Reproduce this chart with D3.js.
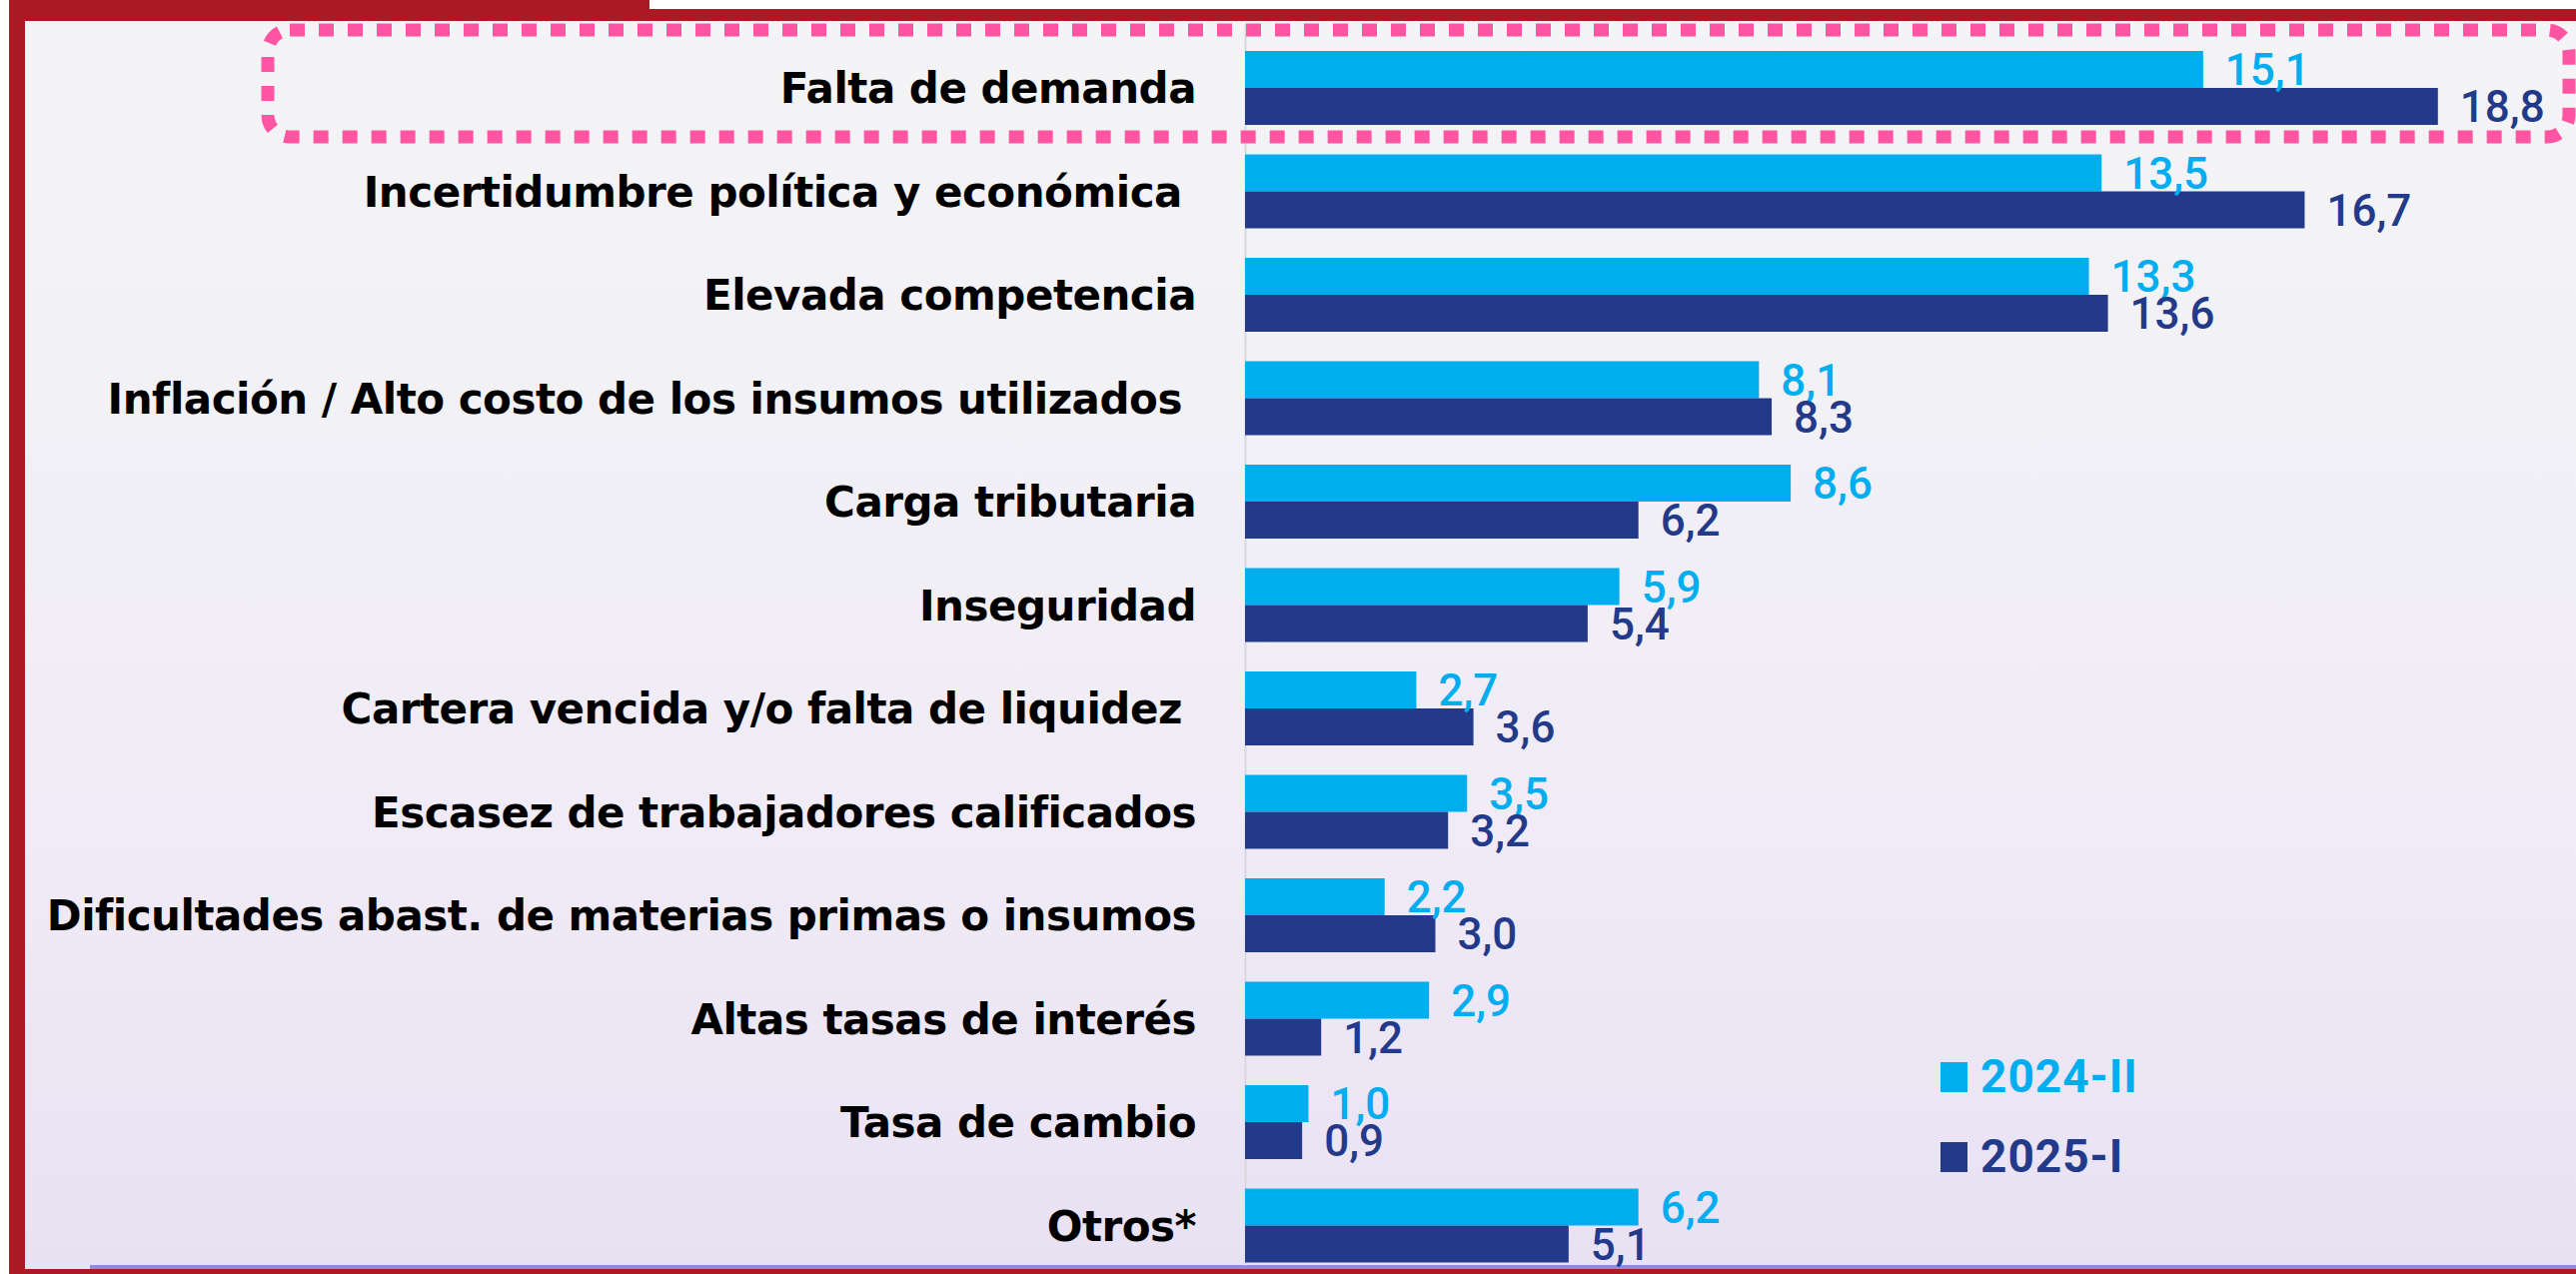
<!DOCTYPE html>
<html>
<head>
<meta charset="utf-8">
<script src="https://cdn.jsdelivr.net/npm/d3@7"></script>
<style>
  html, body { margin: 0; padding: 0; background: #ffffff; }
  svg { display: block; }
  .cat { white-space: pre; }
</style>
</head>
<body>
<div id="chart"></div>
<script>
// categorias (de arriba hacia abajo)
var categorias = [
    "Falta de demanda",
    "Incertidumbre política y económica ",
    "Elevada competencia",
    "Inflación / Alto costo de los insumos utilizados ",
    "Carga tributaria",
    "Inseguridad",
    "Cartera vencida y/o falta de liquidez ",
    "Escasez de trabajadores calificados",
    "Dificultades abast. de materias primas o insumos",
    "Altas tasas de interés",
    "Tasa de cambio",
    "Otros*"
];
var series = ["2024-II", "2025-I"];
var valores2024II = [15.1, 13.5, 13.3, 8.1, 8.6, 5.9, 2.7, 3.5, 2.2, 2.9, 1.0, 6.2];
var valores2025I = [18.8, 16.7, 13.6, 8.3, 6.2, 5.4, 3.6, 3.2, 3.0, 1.2, 0.9, 5.1];
var colores = ["#00aeef", "#233a8b"];

var W = 2578, H = 1275;
var rojo = "#ab1a24";

var svg = d3.select("#chart").append("svg")
    .attr("width", W)
    .attr("height", H);

var defs = svg.append("defs");
var grad = defs.append("linearGradient")
    .attr("id", "fondo")
    .attr("x1", 0).attr("y1", 0).attr("x2", 0).attr("y2", 1);
grad.append("stop").attr("offset", "0").attr("stop-color", "#f4f4f6");
grad.append("stop").attr("offset", "0.3").attr("stop-color", "#f2f1f6");
grad.append("stop").attr("offset", "0.65").attr("stop-color", "#f0ebf6");
grad.append("stop").attr("offset", "1").attr("stop-color", "#e8e1f3");

// fondo del panel
svg.append("rect")
    .attr("x", 25).attr("y", 21)
    .attr("width", W - 25).attr("height", H - 21)
    .attr("fill", "url(#fondo)");

// linea morada abajo
svg.append("rect")
    .attr("x", 90).attr("y", 1266)
    .attr("width", W - 90).attr("height", 4)
    .attr("fill", "#9c86d8");

// marco rojo
svg.append("rect").attr("x", 9).attr("y", 0).attr("width", 16).attr("height", H).attr("fill", rojo);
svg.append("rect").attr("x", 9).attr("y", 0).attr("width", 641).attr("height", 21).attr("fill", rojo);
svg.append("rect").attr("x", 9).attr("y", 9).attr("width", W - 9).attr("height", 12).attr("fill", rojo);
svg.append("rect").attr("x", 9).attr("y", 1270).attr("width", W - 9).attr("height", 5).attr("fill", rojo);

// escalas
var y0 = d3.scaleBand()
    .domain(categorias)
    .range([36.25, 36.25 + categorias.length * 103.5])
    .paddingInner(0.285)
    .paddingOuter(0.1425);

var y1 = d3.scaleBand()
    .domain(series)
    .range([0, y0.bandwidth()]);

var x = d3.scaleLinear()
    .domain([0, 20])
    .range([1246, 1246 + 20 * 63.5]);

var es = d3.formatLocale({ decimal: ",", thousands: ".", grouping: [3], currency: ["", ""] });
var fmt = es.format(".1f");

var datos = categorias.map(function(c, i) {
    return { cat: c, vals: [
        { serie: series[0], v: valores2024II[i], color: colores[0] },
        { serie: series[1], v: valores2025I[i], color: colores[1] }
    ] };
});

// eje vertical (solo la linea)
var eje = svg.append("g")
    .attr("transform", "translate(" + x(0) + ",0)")
    .call(d3.axisLeft(d3.scaleLinear().range([24, 1266])).ticks(0).tickSize(0).tickFormat(""));
eje.select(".domain").attr("stroke", "#d9d7dd").attr("stroke-width", 2);

// recuadro punteado rosa sobre "Falta de demanda"
svg.append("rect")
    .attr("x", 268).attr("y", 30)
    .attr("width", 2571 - 268).attr("height", 137 - 30)
    .attr("rx", 22).attr("ry", 22)
    .attr("fill", "none")
    .attr("stroke", "#ff55a2")
    .attr("stroke-width", 13)
    .attr("stroke-dasharray", "15 14");

var grupos = svg.append("g").selectAll("g")
    .data(datos)
    .enter()
    .append("g")
    .attr("transform", function(d) { return "translate(0," + y0(d.cat) + ")"; });

grupos.selectAll("rect")
    .data(function(d) { return d.vals; })
    .enter()
    .append("rect")
    .attr("x", x(0))
    .attr("y", function(d) { return y1(d.serie); })
    .attr("width", function(d) { return x(d.v) - x(0); })
    .attr("height", y1.bandwidth())
    .attr("fill", function(d) { return d.color; });

// valores
var fsVal = 44;
grupos.selectAll("text.val")
    .data(function(d) { return d.vals; })
    .enter()
    .append("text")
    .attr("class", "val")
    .attr("x", function(d) { return x(d.v) + 22; })
    .attr("y", function(d) { return y1(d.serie) + y1.bandwidth() / 2 + fsVal * 0.355; })
    .attr("font-family", "Roboto, 'Liberation Sans', Arial, sans-serif")
    .attr("font-weight", 500)
    .attr("font-size", fsVal)
    .attr("fill", function(d) { return d.color; })
    .text(function(d) { return fmt(d.v); });

// etiquetas de categorias
var fsCat = 42;
grupos.append("text")
    .attr("class", "cat")
    .attr("x", 1197)
    .attr("y", y0.bandwidth() / 2 + fsCat * 0.36)
    .attr("text-anchor", "end")
    .attr("font-family", "'DejaVu Sans', Verdana, sans-serif")
    .attr("font-weight", "bold")
    .attr("font-size", fsCat)
    .attr("letter-spacing", -0.5)
    .attr("fill", "#000")
    .text(function(d) { return d.cat; });

// leyenda
var leyenda = svg.append("g")
    .selectAll("g")
    .data(series)
    .enter()
    .append("g")
    .attr("transform", function(d, i) { return "translate(1942," + (1063 + i * 80) + ")"; });

leyenda.append("rect")
    .attr("width", 27)
    .attr("height", 30)
    .attr("fill", function(d, i) { return colores[i]; });

leyenda.append("text")
    .attr("x", 40)
    .attr("y", 30)
    .attr("font-family", "Roboto, 'Liberation Sans', Arial, sans-serif")
    .attr("font-weight", "bold")
    .attr("font-size", 46)
    .attr("letter-spacing", 1)
    .attr("fill", function(d, i) { return colores[i]; })
    .text(function(d) { return d; });
</script>
</body>
</html>
